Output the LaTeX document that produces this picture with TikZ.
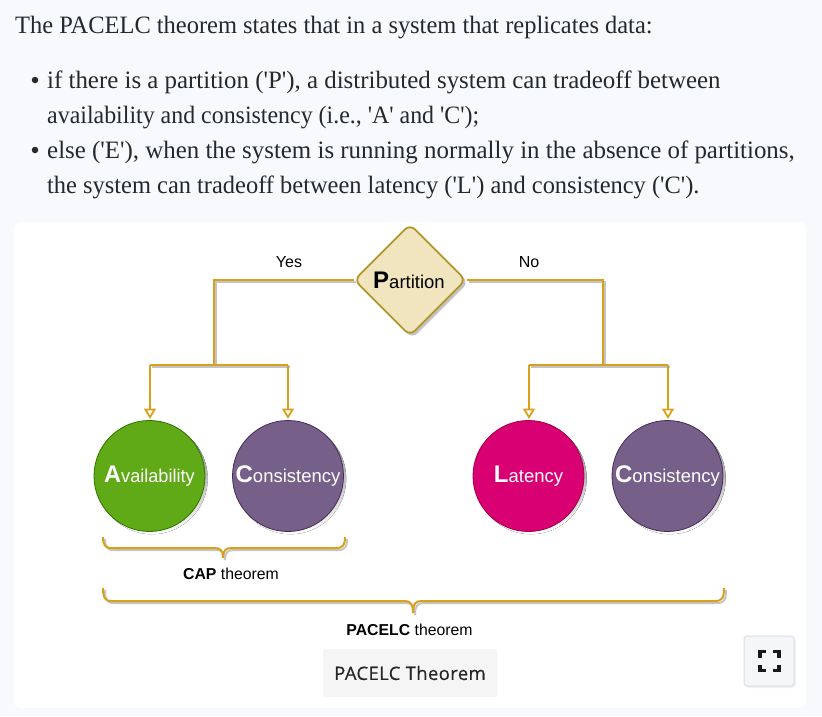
\documentclass[tikz,border=0pt]{standalone}
\usepackage{fontspec}
\setmainfont{Liberation Sans}
\newfontfamily\bodyfont{Liberation Serif}
\newfontfamily\capfont{Open Sans}
\usetikzlibrary{arrows.meta,shapes.geometric}
\definecolor{pagebg}{HTML}{F8F9FC}
\definecolor{gold}{HTML}{D9A11B}
\definecolor{shade}{HTML}{C4C4C4}
\definecolor{dfill}{HTML}{F1E5C0}
\definecolor{dline}{HTML}{B3962A}
\definecolor{cgreen}{HTML}{60A917}
\definecolor{cgreenl}{HTML}{2D7600}
\definecolor{cpurple}{HTML}{76608A}
\definecolor{cpurplel}{HTML}{432D57}
\definecolor{cpink}{HTML}{D80073}
\definecolor{cpinkl}{HTML}{A50040}
\definecolor{bodytext}{HTML}{24292E}
\definecolor{btnfill}{HTML}{F5F6F8}
\definecolor{btnline}{HTML}{D9DFEA}
\tikzset{
  x=1pt,y=-1pt,
  para/.style={anchor=base west,inner sep=0pt,text=bodytext,font=\fontsize{25}{30}\selectfont\bodyfont},
  bull/.style={circle,fill=bodytext,inner sep=0pt,minimum size=6.5pt},
  circ/.style={circle,minimum size=111pt,inner sep=0pt,line width=.8pt,text=white,font=\fontsize{18.5}{24}\selectfont},
  conn/.style={draw=gold,line width=2pt},
  connshade/.style={draw=shade,line width=2pt},
  sh/.style={shift={(2,2)}},
  tip/.style={-{Triangle[open,length=10.5pt,width=12pt,line width=1.8pt]}},
  lbl/.style={inner sep=0pt,font=\fontsize{16}{19}\selectfont},
  dia/.style={diamond,rounded corners=7pt,inner sep=0pt,minimum width=112pt,minimum height=112pt}
}
\newcommand{\bigini}[1]{{\fontsize{24}{24}\selectfont\bfseries #1}}
\newcommand{\sq}[2]{\scalebox{#1}[1]{#2}}
\begin{document}
\begin{tikzpicture}
\useasboundingbox (0,0) rectangle (822,716);
\fill[pagebg] (0,0) rectangle (822,716);
\fill[white,rounded corners=7pt] (14,222) rectangle (806,708);
% paragraph
\node[para] (t0) at (15,33) {\sq{.978}{The PACELC theorem states that in a system that replicates data:}};
\node[bull] (b1) at (35,80) {};
\node[para] (t1) at (47,88) {\sq{.9956}{if there is a partition ('P'), a distributed system can tradeoff between}};
\node[para] (t2) at (47,123) {\sq{.956}{availability and consistency (i.e., 'A' and 'C');}};
\node[bull] (b2) at (35,150) {};
\node[para] (t3) at (47,158) {\sq{.9961}{else ('E'), when the system is running normally in the absence of partitions,}};
\node[para] (t4) at (47,193) {\sq{.9775}{the system can tradeoff between latency ('L') and consistency ('C').}};
% shadows of shapes
\node[dia,fill=shade] (Ps) at (412.5,282.5) {};
\foreach \cx in {152,290.5,531,670}{\fill[shade] (\cx,478.5) circle[radius=55.7];}
% diamond
\node[dia,draw=dline,fill=dfill,line width=1.8pt] (P) at (410,280) {};
\node[inner sep=0pt,font=\fontsize{18.5}{24}\selectfont] (Pt) at (409,280.5) {\bigini{P}artition};
% circles
\node[circ,draw=cgreenl,fill=cgreen] (A) at (149.5,476) {\raisebox{-2.5pt}{\sq{.98}{\bigini{A}vailability}}};
\node[circ,draw=cpurplel,fill=cpurple] (C1) at (288,476) {\raisebox{-2.5pt}{\bigini{C}onsistency}};
\node[circ,draw=cpinkl,fill=cpink] (L) at (528.5,476) {\raisebox{-2.5pt}{\bigini{L}atency}};
\node[circ,draw=cpurplel,fill=cpurple] (C2) at (667.5,476) {\raisebox{-2.5pt}{\bigini{C}onsistency}};
% junctions
\coordinate (ly) at (214,280);
\coordinate (lb) at (214,365);
\coordinate (ry) at (603,280);
\coordinate (rb) at (603,365);
\coordinate (Pl) at (354,280);
\coordinate (Pr) at (467,280);
\coordinate (Al) at (150,365);
\coordinate (Cl) at (288,365);
\coordinate (Lr) at (529,365);
\coordinate (Cr) at (668,365);
\coordinate (Ae) at (150,419);
\coordinate (C1e) at (288,419);
\coordinate (Le) at (529,419);
\coordinate (C2e) at (668,419);
% connector shadows
\draw[connshade] ([sh]Pl) -- ([sh]ly) -- ([sh]lb);
\draw[connshade] ([sh]Al) -- ([sh]Cl);
\draw[connshade] ([sh]Lr) -- ([sh]Cr);
\draw[connshade] ([sh]Pr) -- ([sh]ry) -- ([sh]rb);
% connectors
\draw[conn] (Pl) -- (ly) -- (lb);
\draw[conn] (Al) -- (Cl);
\draw[conn,tip] (Al) -- (Ae);
\draw[conn,tip] (Cl) -- (C1e);
\draw[conn] (Pr) -- (ry) -- (rb);
\draw[conn] (Lr) -- (Cr);
\draw[conn,tip] (Lr) -- (Le);
\draw[conn,tip] (Cr) -- (C2e);
% labels
\node[lbl] (yes) at (289,262) {Yes};
\node[lbl] (no) at (529,262) {No};
\node[lbl,font=\fontsize{15.8}{19}\selectfont] (cap) at (231,573.5) {\textbf{CAP} theorem};
\node[lbl,font=\fontsize{15.8}{19}\selectfont] (pac) at (409.5,629.5) {\textbf{PACELC} theorem};
% braces
\foreach \dx/\col in {2/shade,0/gold}{
\begin{scope}[shift={(\dx,\dx)}]
\draw[line width=2pt,draw=\col] (103,537) .. controls (103,545) and (105,548) .. (112,548) -- (214,548) .. controls (220,548) and (223,550) .. (223,558) .. controls (223,550) and (226,548) .. (232,548) -- (336,548) .. controls (343,548) and (345,545) .. (345,537);
\draw[line width=2pt,draw=\col] (103,588) .. controls (103,598) and (105,601) .. (112,601) -- (404,601) .. controls (410,601) and (413,603) .. (413,613) .. controls (413,603) and (416,601) .. (422,601) -- (715,601) .. controls (722,601) and (724,598) .. (724,588);
\end{scope}}
% caption
\node[fill=black!4,rounded corners=2pt,minimum width=174pt,minimum height=48pt,inner sep=0pt,font=\fontsize{18.5}{22}\selectfont\capfont\addfontfeature{LetterSpace=2,FakeBold=0.35},text=black!85] (capt) at (410,673) {PACELC Theorem};
% button
\fill[black!5,rounded corners=4pt] (745,638) rectangle (796,688);
\node[draw=btnline,fill=btnfill,line width=1pt,rounded corners=3pt,minimum size=50pt,inner sep=0pt] (btn) at (769,661) {};
\foreach \sx/\sy in {-1/-1,1/-1,-1/1,1/1}{
  \draw[black!90,line width=3.4pt] (769.5+\sx*9.5,661+\sy*3.5) -- (769.5+\sx*9.5,661+\sy*9.5) -- (769.5+\sx*3.5,661+\sy*9.5);
}
\end{tikzpicture}
\end{document}
